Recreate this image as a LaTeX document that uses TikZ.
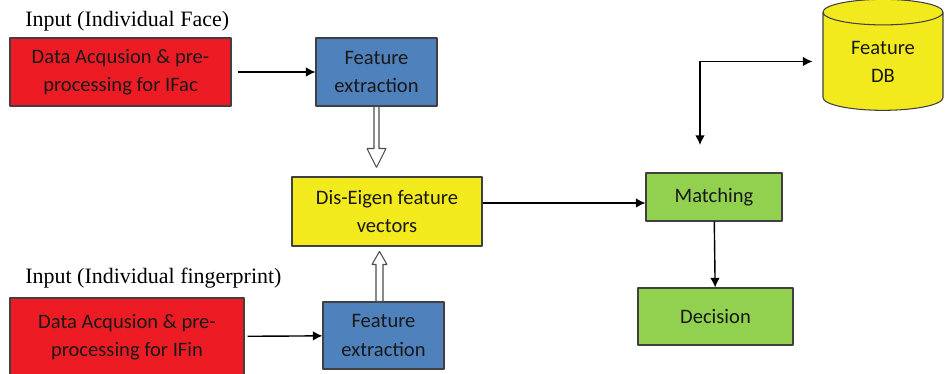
\documentclass[tikz,border=0pt]{standalone}
\usepackage{fontspec}
\setmainfont{Liberation Serif}
\newfontfamily\boxfont{Carlito}
\usetikzlibrary{shapes.geometric,calc,arrows.meta}
\definecolor{acqred}{HTML}{ED1C24}
\definecolor{featblue}{HTML}{4F81BD}
\definecolor{vecyellow}{HTML}{F2EA1C}
\definecolor{matchgreen}{HTML}{92D050}
\begin{document}
\begin{tikzpicture}[>={Latex[length=5.5pt,width=5.5pt]},line join=bevel,x=0.02cm,y=-0.02cm,
  blk/.style={draw=black!75,line width=0.6pt,align=center,inner sep=0pt,
    font=\boxfont\fontsize{11.7}{16}\selectfont,text=black!90},
  lbl/.style={anchor=west,inner sep=0pt,font=\fontsize{12.5}{14}\selectfont},
  hollow/.style={draw=black!70,fill=white,line width=0.6pt},
  conn/.style={black,line width=0.8pt},
]
\useasboundingbox (0,0) rectangle (948,374);
\clip (0,0) rectangle (948,374);
%%
  \node (face_lbl) at (25,21) [lbl] {Input (Individual Face)};
  \node (finger_lbl) at (25,278) [lbl] {Input (Individual fingerprint)};

  \node (face_acq) at (120.5,72) [blk,fill=acqred,minimum width=4.42cm,minimum height=1.36cm] {Data Acqusion \& pre-\\processing for IFac};
  \node (face_fe) at (376.5,72) [blk,fill=featblue,minimum width=2.42cm,minimum height=1.36cm] {Feature\\extraction};
  \node (fused) at (387,211.5) [blk,fill=vecyellow,minimum width=3.8cm,minimum height=1.38cm] {Dis-Eigen feature\\vectors};
  \node (finger_acq) at (127,337) [blk,fill=acqred,minimum width=4.68cm,minimum height=1.56cm] {Data Acqusion \& pre-\\processing for IFin};
  \node (finger_fe) at (383.5,335.5) [blk,fill=featblue,minimum width=2.42cm,minimum height=1.34cm] {Feature\\extraction};
  \node (matching) at (714,197) [blk,fill=matchgreen,minimum width=2.72cm,minimum height=0.96cm] {Matching};
  \node (decision) at (715.5,316.5) [blk,fill=matchgreen,minimum width=3.1cm,minimum height=1.14cm] {Decision};
  \node (db) at (883,61.5) [blk,fill=vecyellow,shape=cylinder,shape border rotate=90,aspect=0.4,minimum width=2.4cm,minimum height=2.22cm] {Feature\\DB};
  \coordinate (db_ret) at (700,145);

  \draw [conn,->,shorten <=0.12cm] (face_acq) edge (face_fe);
  \draw [conn,->,shorten <=0.06cm] (finger_acq) edge (finger_fe);
  \draw [conn,->] ([yshift=0.17cm]fused.east) -- ([yshift=0.17cm]fused.east -| matching.west);
  \draw [conn,->] (matching) edge (decision);
  \draw [conn,<->,shorten >=0.2cm] (db_ret) |- (db.west);

  \draw [hollow] ($(face_fe.south)+(-2.5,0)$) -- ++(0,42) -- ++(-7,0) -- ++(9.5,19) -- ++(9.5,-19) -- ++(-7,0) -- ++(0,-42) -- cycle;
  \draw [hollow] ($(finger_fe.north)+(-7.5,0)$) -- ++(0,-37) -- ++(-4,0) -- ++(7.5,-13) -- ++(7.5,13) -- ++(-4,0) -- ++(0,37) -- cycle;

\end{tikzpicture}
\end{document}
